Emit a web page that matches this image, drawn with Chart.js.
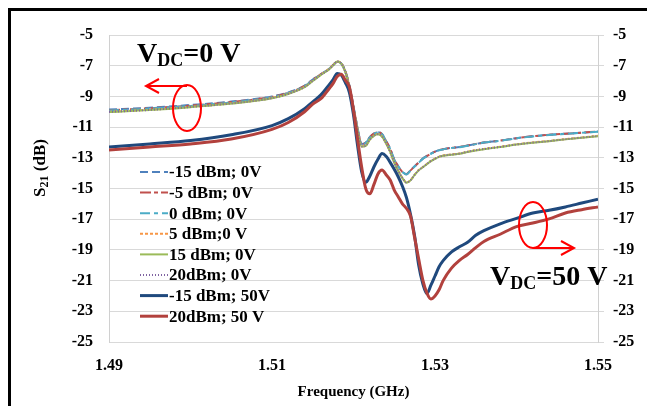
<!DOCTYPE html>
<html><head><meta charset="utf-8">
<script src="https://cdn.jsdelivr.net/npm/chart.js@4/dist/chart.umd.min.js"></script>
<style>html,body{margin:0;padding:0;background:#fff}#wrap{position:relative;width:647px;height:406px}</style>
</head><body><div id="wrap"><canvas id="c" width="647" height="406"></canvas></div>
<script>
// Frequency grid (GHz)
const freq = [1.490,1.495,1.500,1.505,1.510,1.512,1.514,1.515,1.516,1.517,
  1.5175,1.518,1.5185,1.519,1.5195,1.520,1.5205,1.521,1.5215,1.522,
  1.5225,1.523,1.5235,1.524,1.5245,1.525,1.5255,1.526,1.5265,1.527,
  1.5275,1.528,1.5285,1.529,1.5295,1.530,1.5305,1.531,1.532,1.533,
  1.534,1.535,1.536,1.538,1.540,1.542,1.544,1.546,1.548,1.550];

const sM15_0V = [-9.86,-9.74,-9.56,-9.34,-9.0,-8.74,-8.3,-7.9,-7.55,-7.2,
  -6.95,-6.74,-6.85,-7.35,-8.3,-9.65,-11.05,-12.1,-12.0,-11.65,
  -11.42,-11.33,-11.45,-11.9,-12.4,-13.1,-13.55,-13.9,-14.05,-13.8,
  -13.55,-13.3,-13.05,-12.88,-12.72,-12.6,-12.5,-12.44,-12.35,-12.3,
  -12.2,-12.1,-12.0,-11.88,-11.72,-11.6,-11.5,-11.43,-11.36,-11.29];
const sM5_0V = [-9.9,-9.77,-9.6,-9.37,-9.03,-8.76,-8.32,-7.92,-7.56,-7.2,
  -6.95,-6.74,-6.86,-7.37,-8.32,-9.68,-11.08,-12.12,-12.02,-11.66,
  -11.43,-11.34,-11.46,-11.92,-12.42,-13.12,-13.57,-13.92,-14.07,-13.82,
  -13.56,-13.31,-13.06,-12.89,-12.73,-12.6,-12.5,-12.44,-12.35,-12.3,
  -12.2,-12.1,-12.0,-11.88,-11.72,-11.6,-11.5,-11.43,-11.36,-11.29];
const s0_0V = [-9.92,-9.79,-9.62,-9.39,-9.05,-8.78,-8.33,-7.93,-7.57,-7.21,
  -6.96,-6.75,-6.87,-7.38,-8.34,-9.7,-11.1,-12.13,-12.03,-11.67,
  -11.44,-11.35,-11.47,-11.93,-12.43,-13.13,-13.58,-13.93,-14.08,-13.83,
  -13.57,-13.32,-13.07,-12.9,-12.74,-12.61,-12.51,-12.45,-12.36,-12.31,
  -12.21,-12.11,-12.01,-11.89,-11.73,-11.61,-11.51,-11.44,-11.37,-11.3];
const s5_0V = [-10.0,-9.87,-9.68,-9.45,-9.1,-8.82,-8.38,-7.98,-7.58,-7.22,
  -6.96,-6.72,-6.85,-7.4,-8.4,-9.8,-11.2,-12.25,-12.2,-11.8,
  -11.55,-11.45,-11.6,-12.05,-12.6,-13.3,-13.85,-14.3,-14.6,-14.45,
  -14.1,-13.8,-13.6,-13.4,-13.2,-13.05,-12.92,-12.85,-12.78,-12.72,
  -12.6,-12.5,-12.42,-12.28,-12.12,-12.0,-11.9,-11.78,-11.68,-11.57];
const s15_0V = [-10.02,-9.89,-9.7,-9.47,-9.12,-8.84,-8.4,-8.0,-7.6,-7.24,
  -6.98,-6.73,-6.86,-7.42,-8.42,-9.82,-11.22,-12.27,-12.22,-11.82,
  -11.57,-11.47,-11.62,-12.07,-12.62,-13.32,-13.87,-14.32,-14.62,-14.47,
  -14.12,-13.82,-13.62,-13.42,-13.22,-13.07,-12.94,-12.87,-12.8,-12.74,
  -12.62,-12.52,-12.44,-12.3,-12.14,-12.02,-11.92,-11.8,-11.7,-11.59];
const s20_0V = [-10.01,-9.88,-9.69,-9.46,-9.11,-8.83,-8.39,-7.99,-7.59,-7.23,
  -6.97,-6.73,-6.86,-7.41,-8.41,-9.81,-11.21,-12.26,-12.21,-11.81,
  -11.56,-11.46,-11.61,-12.06,-12.61,-13.31,-13.86,-14.31,-14.61,-14.46,
  -14.11,-13.81,-13.61,-13.41,-13.21,-13.06,-12.93,-12.86,-12.79,-12.73,
  -12.61,-12.51,-12.43,-12.29,-12.13,-12.01,-11.91,-11.79,-11.69,-11.58];
const sM15_50V = [-12.3,-12.1,-11.88,-11.5,-10.9,-10.45,-9.8,-9.35,-8.9,-8.25,
  -7.9,-7.5,-7.6,-8.1,-8.75,-10.2,-12.2,-13.9,-14.6,-14.2,
  -13.6,-13.1,-12.72,-12.9,-13.3,-13.75,-14.25,-14.85,-15.6,-16.7,
  -18.1,-20.0,-21.2,-21.85,-21.3,-20.7,-20.1,-19.7,-19.15,-18.8,
  -18.5,-18.05,-17.75,-17.3,-16.95,-16.6,-16.42,-16.2,-15.95,-15.7];
const s20_50V = [-12.5,-12.3,-12.1,-11.78,-11.15,-10.7,-10.0,-9.5,-9.15,-8.5,
  -8.15,-7.7,-7.55,-7.95,-8.4,-9.9,-11.8,-13.6,-15.0,-15.35,
  -14.75,-14.05,-13.8,-14.1,-14.45,-15.1,-15.55,-16.0,-16.3,-16.8,
  -18.2,-19.6,-20.95,-21.8,-22.2,-22.0,-21.6,-21.0,-20.2,-19.68,
  -19.3,-18.85,-18.45,-17.98,-17.48,-17.25,-16.98,-16.6,-16.38,-16.2];

const xTicks = [1.49, 1.51, 1.53, 1.55];
const yTicks = [-25,-23,-21,-19,-17,-15,-13,-11,-9,-7,-5];

const seriesNames = ['-15 dBm; 0V','-5 dBm; 0V','0 dBm; 0V','5 dBm;0 V','15 dBm; 0V','20dBm; 0V','-15 dBm; 50V','20dBm; 50 V'];
const seriesValues = [sM15_0V, sM5_0V, s0_0V, s5_0V, s15_0V, s20_0V, sM15_50V, s20_50V];
const styles = [
  {c:'#4F81BD', w:2, d:[8,4]},
  {c:'#C0504D', w:2, d:[11,3,4,3]},
  {c:'#4BACC6', w:2, d:[10,4,4,4]},
  {c:'#F79646', w:2, d:[3,2]},
  {c:'#9BBB59', w:2, d:[]},
  {c:'#8064A2', w:2, d:[1,2]},
  {c:'#1F497D', w:3, d:[]},
  {c:'#B2413D', w:3, d:[]}
];

const datasets = seriesNames.map((n,i)=>({
  label:n,
  data:freq.map((f,k)=>({x:f,y:seriesValues[i][k]})),
  borderColor:styles[i].c, borderWidth:styles[i].w, borderDash:styles[i].d,
  pointRadius:0, fill:false, cubicInterpolationMode:'monotone',
  order: i>=6 ? 10-i : 20-i
}));

const SERIF = "'Liberation Serif','Times New Roman',serif";
const tickFont = {family:SERIF, size:16, weight:'bold'};

function drawSub(ctx, parts, x, y){
  parts.forEach(p=>{
    ctx.font = 'bold '+p.s+'px '+SERIF;
    ctx.fillText(p.t, x, y+(p.dy||0));
    x += ctx.measureText(p.t).width;
  });
}

const decor = {
  id:'decor',
  beforeDraw(chart){
    const ctx=chart.ctx; ctx.save(); ctx.fillStyle='#fff'; ctx.fillRect(0,0,chart.width,chart.height); ctx.restore();
  },
  afterDraw(chart){
    const ctx=chart.ctx; ctx.save();
    // frame
    ctx.fillStyle='#000';
    ctx.fillRect(8,8,639,3);
    ctx.fillRect(8,8,3,398);
    // legend
    ctx.textBaseline='middle'; ctx.textAlign='left';
    seriesNames.forEach((n,i)=>{
      const y = 172 + 20.6*i;
      ctx.strokeStyle=styles[i].c; ctx.lineWidth=styles[i].w; ctx.setLineDash(styles[i].d);
      ctx.beginPath(); ctx.moveTo(140,y); ctx.lineTo(168,y); ctx.stroke();
      ctx.setLineDash([]);
      ctx.fillStyle='#000'; ctx.font='bold 17px '+SERIF;
      ctx.fillText(n,169,y+1);
    });
    // annotations
    ctx.textBaseline='alphabetic'; ctx.fillStyle='#000';
    drawSub(ctx,[{t:'V',s:28},{t:'DC',s:18,dy:4},{t:'=0 V',s:28}],137,62);
    drawSub(ctx,[{t:'V',s:28},{t:'DC',s:18,dy:4},{t:'=50 V',s:28}],490,285);
    // ellipses + arrows
    ctx.strokeStyle='#FF0000'; ctx.lineWidth=2;
    ctx.beginPath(); ctx.ellipse(187,108,14,23,0,0,Math.PI*2); ctx.stroke();
    ctx.beginPath(); ctx.moveTo(187,86); ctx.lineTo(146,86); ctx.stroke();
    ctx.beginPath(); ctx.moveTo(159,79); ctx.lineTo(146,86); ctx.lineTo(159,93); ctx.stroke();
    ctx.beginPath(); ctx.ellipse(533,225,14,23,0,0,Math.PI*2); ctx.stroke();
    ctx.beginPath(); ctx.moveTo(533,248); ctx.lineTo(574,248); ctx.stroke();
    ctx.beginPath(); ctx.moveTo(561,241); ctx.lineTo(574,248); ctx.lineTo(561,255); ctx.stroke();
    // axis titles
    ctx.fillStyle='#000';
    ctx.textAlign='center'; ctx.textBaseline='middle';
    ctx.font='bold 15px '+SERIF;
    ctx.fillText('Frequency (GHz)', 353.5, 392);
    ctx.save();
    ctx.translate(45,168); ctx.rotate(-Math.PI/2);
    ctx.textAlign='left'; ctx.textBaseline='alphabetic';
    const parts=[{t:'S',s:17},{t:'21',s:12,dy:3},{t:' (dB)',s:17}];
    let w=0; parts.forEach(p=>{ctx.font='bold '+p.s+'px '+SERIF; w+=ctx.measureText(p.t).width;});
    drawSub(ctx,parts,-w/2,0);
    ctx.restore();
    ctx.restore();
  }
};

new Chart(document.getElementById('c'),{
  type:'line',
  data:{datasets},
  options:{
    responsive:false, animation:false, devicePixelRatio:1,
    layout:{padding:{top:35,left:0,right:0,bottom:0}},
    plugins:{legend:{display:false}, tooltip:{enabled:false}},
    scales:{
      x:{type:'linear', min:1.49, max:1.55,
        afterBuildTicks:(s)=>{s.ticks=xTicks.map(v=>({value:v}));},
        ticks:{callback:v=>Number(v).toFixed(2), font:tickFont, color:'#000', padding:6, maxRotation:0},
        grid:{display:false}, border:{display:false},
        afterFit:(s)=>{s.height=64;}
      },
      y:{position:'left', min:-25, max:-5,
        afterBuildTicks:(s)=>{s.ticks=yTicks.map(v=>({value:v}));},
        ticks:{font:tickFont, color:'#000', padding:16},
        grid:{color:'#D9D9D9', drawTicks:false, lineWidth:1},
        border:{color:'#D0D0D0', width:1},
        afterFit:(s)=>{s.width=109;}
      },
      y2:{position:'right', min:-25, max:-5,
        afterBuildTicks:(s)=>{s.ticks=yTicks.map(v=>({value:v}));},
        ticks:{font:tickFont, color:'#000', padding:9},
        grid:{color:'#D9D9D9', drawOnChartArea:false, drawTicks:true, tickLength:6},
        border:{color:'#D0D0D0', width:1},
        afterFit:(s)=>{s.width=49;}
      }
    }
  },
  plugins:[decor]
});
</script></body></html>
